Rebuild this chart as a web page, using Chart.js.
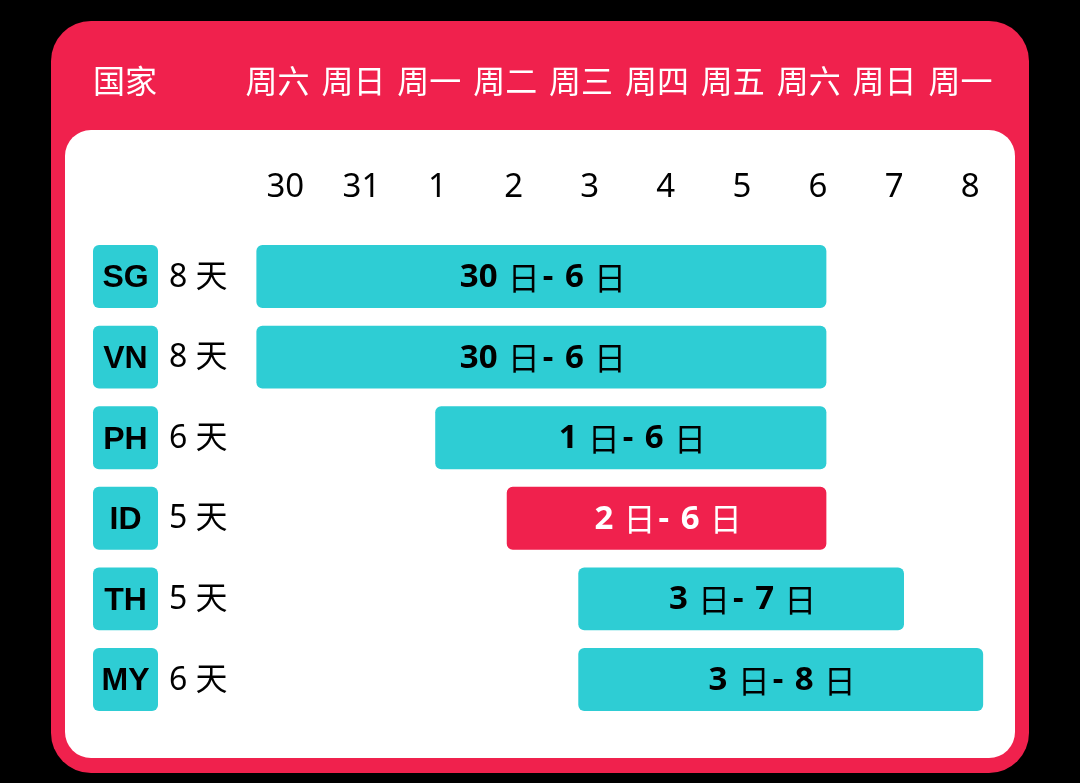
<!DOCTYPE html>
<html>
<head>
<meta charset="utf-8">
<script src="https://cdn.jsdelivr.net/npm/chart.js@4.4.1/dist/chart.umd.min.js"></script>
<style>
    html, body { margin: 0; padding: 0; background: #000; }
    #wrap { width: 1080px; height: 783px; }
</style>
</head>
<body>
<div id="wrap"><canvas id="scheduleChart" width="1080" height="783"></canvas></div>
<script>
// data
const countries = ["SG", "VN", "PH", "ID", "TH", "MY"];
const durations = ["8 天", "8 天", "6 天", "5 天", "5 天", "6 天"];
const startDays = ["30", "30", "1", "2", "3", "3"];
const endDays = ["6", "6", "6", "6", "7", "8"];
// bar extents on the day axis (0 = day 30, 9 = day 8)
const barStart = [-0.38, -0.38, 1.97, 2.91, 3.85, 3.85];
const barEnd = [7.11, 7.11, 7.11, 7.11, 8.13, 9.17];
const dayTicks = ["30", "31", "1", "2", "3", "4", "5", "6", "7", "8"];
const weekdays = ["周六", "周日", "周一", "周二", "周三", "周四", "周五", "周六", "周日", "周一"];
const highlighted = "ID";

const RED = "#F0214D";
const TEAL = "#2ECDD4";
const LATIN = "'Noto Sans', 'Noto Sans CJK SC', sans-serif";
const CJK = "'Noto Sans CJK SC', sans-serif";

function roundRect(ctx, x, y, w, h, r, color) {
    ctx.beginPath();
    ctx.roundRect(x, y, w, h, r);
    ctx.fillStyle = color;
    ctx.fill();
}

/**
 * Red frame with the white panel behind the chart
 */
const cardPlugin = {
    id: "card",
    beforeDraw(chart) {
        const ctx = chart.ctx;
        ctx.save();
        ctx.fillStyle = "#000";
        ctx.fillRect(0, 0, chart.width, chart.height);
        roundRect(ctx, 51, 21, 978, 752, 40, RED);
        roundRect(ctx, 65, 130, 950, 628, 26, "#fff");

        ctx.fillStyle = "#fff";
        ctx.font = "32px " + CJK;
        ctx.textBaseline = "middle";
        ctx.textAlign = "left";
        ctx.fillText("国家", 93, 81);
        ctx.restore();
    }
};

/**
 * Country badges, durations and the date range inside each bar
 */
const rowPlugin = {
    id: "rows",
    afterDatasetsDraw(chart) {
        const ctx = chart.ctx;
        const bars = chart.getDatasetMeta(0).data;
        const gap = 3;
        ctx.save();
        ctx.textBaseline = "middle";

        bars.forEach((bar, i) => {
            const top = bar.y - bar.height / 2;

            // badge
            roundRect(ctx, 93, top, 65, bar.height, 6, TEAL);
            ctx.fillStyle = "#000";
            ctx.textAlign = "center";
            ctx.font = "bold 32px 'Liberation Sans', sans-serif";
            ctx.fillText(countries[i], 125.5, bar.y + 2);

            // duration
            ctx.textAlign = "left";
            ctx.font = "32px " + LATIN;
            ctx.fillText(durations[i], 169, bar.y + 1);

            // range text, bold digits and regular 日
            const parts = [
                [startDays[i], "bold 33px " + LATIN],
                [" 日", "32px " + CJK],
                ["- ", "bold 33px " + LATIN],
                [endDays[i], "bold 33px " + LATIN],
                [" 日", "32px " + CJK]
            ];
            let total = gap * (parts.length - 1);
            parts.forEach(p => {
                ctx.font = p[1];
                total += ctx.measureText(p[0]).width;
            });
            let x = (bar.x + bar.base) / 2 + 1.5 - total / 2;
            ctx.fillStyle = countries[i] === highlighted ? "#fff" : "#000";
            parts.forEach(p => {
                ctx.font = p[1];
                ctx.fillText(p[0], x, bar.y + 1);
                x += ctx.measureText(p[0]).width + gap;
            });
        });
        ctx.restore();
    }
};

const ctx = document.getElementById("scheduleChart");

new Chart(ctx, {
    type: "bar",
    data: {
        labels: countries,
        datasets: [
            {
                data: barStart.map((s, i) => [s, barEnd[i]]),
                backgroundColor: countries.map(c => c === highlighted ? RED : TEAL),
                borderRadius: 6,
                borderSkipped: false,
                barPercentage: 0.78,
                categoryPercentage: 1
            }
        ]
    },
    options: {
        indexAxis: "y", // horizontal bars
        responsive: false,
        devicePixelRatio: 1,
        animation: false,
        layout: {
            padding: { top: 22.4, left: 247.25, right: 71.75, bottom: 63.2 }
        },
        plugins: {
            legend: { display: false },
            tooltip: { enabled: false }
        },
        scales: {
            x: {
                type: "linear",
                position: "top",
                min: -0.5,
                max: 9.5,
                weight: 0,
                grid: { display: false, drawTicks: false },
                border: { display: false },
                afterBuildTicks: scale => {
                    scale.ticks = dayTicks.map((d, i) => ({ value: i }));
                },
                ticks: {
                    autoSkip: false,
                    maxRotation: 0,
                    padding: 28.5, // fit() doubles this
                    color: "#000",
                    font: { size: 33, family: LATIN },
                    callback: value => dayTicks[value]
                }
            },
            x2: {
                type: "linear",
                axis: "x",
                position: "top",
                min: -0.4,
                max: 9.63,
                weight: 1,
                grid: { display: false, drawTicks: false },
                border: { display: false },
                afterBuildTicks: scale => {
                    scale.ticks = weekdays.map((d, i) => ({ value: i }));
                },
                ticks: {
                    autoSkip: false,
                    maxRotation: 0,
                    padding: 39.4,
                    color: "#fff",
                    font: { size: 32, family: CJK },
                    callback: value => weekdays[value]
                }
            },
            y: {
                display: false
            }
        }
    },
    plugins: [cardPlugin, rowPlugin]
});
</script>
</body>
</html>
